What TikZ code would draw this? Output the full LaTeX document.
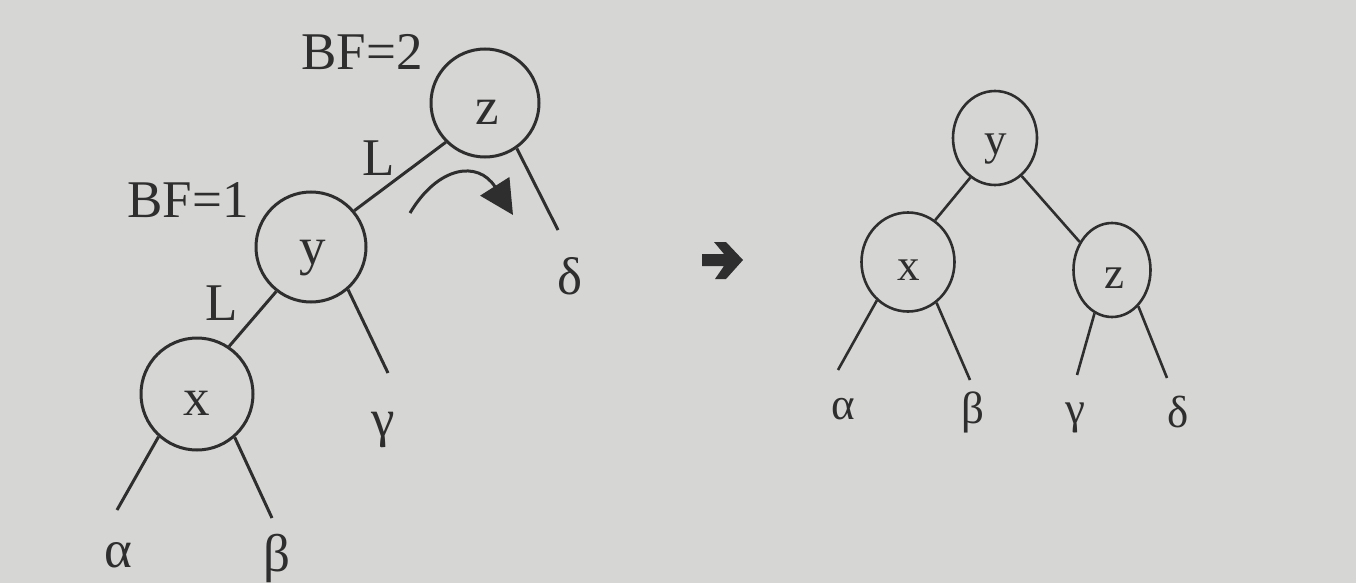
\documentclass[tikz,border=0pt]{standalone}
\usepackage{fontspec}
\setmainfont{Liberation Serif}
\usetikzlibrary{arrows.meta,shapes.geometric}
\definecolor{paper}{HTML}{D6D6D4}
\definecolor{ink}{HTML}{2E2E2E}
\tikzset{
  circL/.style={circle,draw=ink,line width=3pt,minimum size=#1,inner sep=0pt},
  ellR/.style={ellipse,draw=ink,line width=2.6pt,inner sep=0pt},
  txtL/.style={text=ink,inner sep=0pt,font=\fontsize{53}{60}\selectfont},
  txtR/.style={text=ink,inner sep=0pt,font=\fontsize{45}{52}\selectfont},
  edgeL/.style={draw=ink,line width=3pt},
  edgeR/.style={draw=ink,line width=2.6pt},
}
\begin{document}
\begin{tikzpicture}[x=1pt,y=-1pt]
\fill[paper] (0,0) rectangle (1356,583);
\useasboundingbox (0,0) rectangle (1356,583);

% ---- left tree ----
\node[circL=108pt] (z) at (485,103) {};
\node[txtL] (zt) at (487,112) {z};
\node[circL=110pt] (y) at (311,247) {};
\node[txtL] (yt) at (313,258) {y};
\node[circL=112pt] (x) at (197,394) {};
\node[txtL] (xt) at (197,403) {x};

\node[txtL] (bf2) at (362,52) {BF=2};
\node[txtL] (bf1) at (188,200) {BF=1};
\node[txtL] (l1) at (379,158) {L};
\node[txtL] (l2) at (222,303) {L};

\node[txtL] (dL) at (570,276) {δ};
\node[txtL] (gL) at (383,430) {γ};
\node[txtL] (aL) at (118,555) {α};
\node[txtL] (bL) at (277,558) {β};

\coordinate (dLe) at (558,230);
\coordinate (gLe) at (388,373);
\coordinate (aLe) at (117,510);
\coordinate (bLe) at (272,518);

\draw[edgeL] (z.-135) -- (y.40);
\draw[edgeL] (z.-55) -- (dLe);
\draw[edgeL] (y.-128) -- (x.56);
\draw[edgeL] (y.-49) -- (gLe);
\draw[edgeL] (x.-132) -- (aLe);
\draw[edgeL] (x.-49) -- (bLe);

% rotation arrow
\coordinate (rs) at (410,213);
\coordinate (re) at (513,215);
\draw[ink,line width=3pt,-{Triangle[length=34pt,width=34pt]}]
  (rs) .. controls (438,166) and (478,160) .. (re);

% ---- transition arrow ----
\fill[ink] (702,254) -- (724,254) -- (714,242) -- (726,242) -- (743,260)
  -- (726,279) -- (715,279) -- (724,266) -- (702,266) -- cycle;

% ---- right tree ----
\node[ellR,minimum width=84pt,minimum height=94pt] (ry) at (995,138) {};
\node[txtR] (ryt) at (996,149) {y};
\node[ellR,minimum width=93pt,minimum height=99pt] (rx) at (908,262) {};
\node[txtR] (rxt) at (909,270) {x};
\node[ellR,minimum width=77pt,minimum height=94pt] (rz) at (1112,270) {};
\node[txtR] (rzt) at (1114,278) {z};

\node[txtR] (aR) at (843,409) {α};
\node[txtR] (bR) at (973,412) {β};
\node[txtR] (gR) at (1075,418) {γ};
\node[txtR] (dR) at (1178,412) {δ};

\coordinate (aRe) at (838,370);
\coordinate (bRe) at (970,380);
\coordinate (gRe) at (1077,375);
\coordinate (dRe) at (1167,378);

\draw[edgeR] (ry.-122) -- (rx.57);
\draw[edgeR] (ry.-55) -- (rz.139);
\draw[edgeR] (rx.-129) -- (aRe);
\draw[edgeR] (rx.-55) -- (bRe);
\draw[edgeR] (rz.-112) -- (gRe);
\draw[edgeR] (rz.-54) -- (dRe);
\end{tikzpicture}
\end{document}
